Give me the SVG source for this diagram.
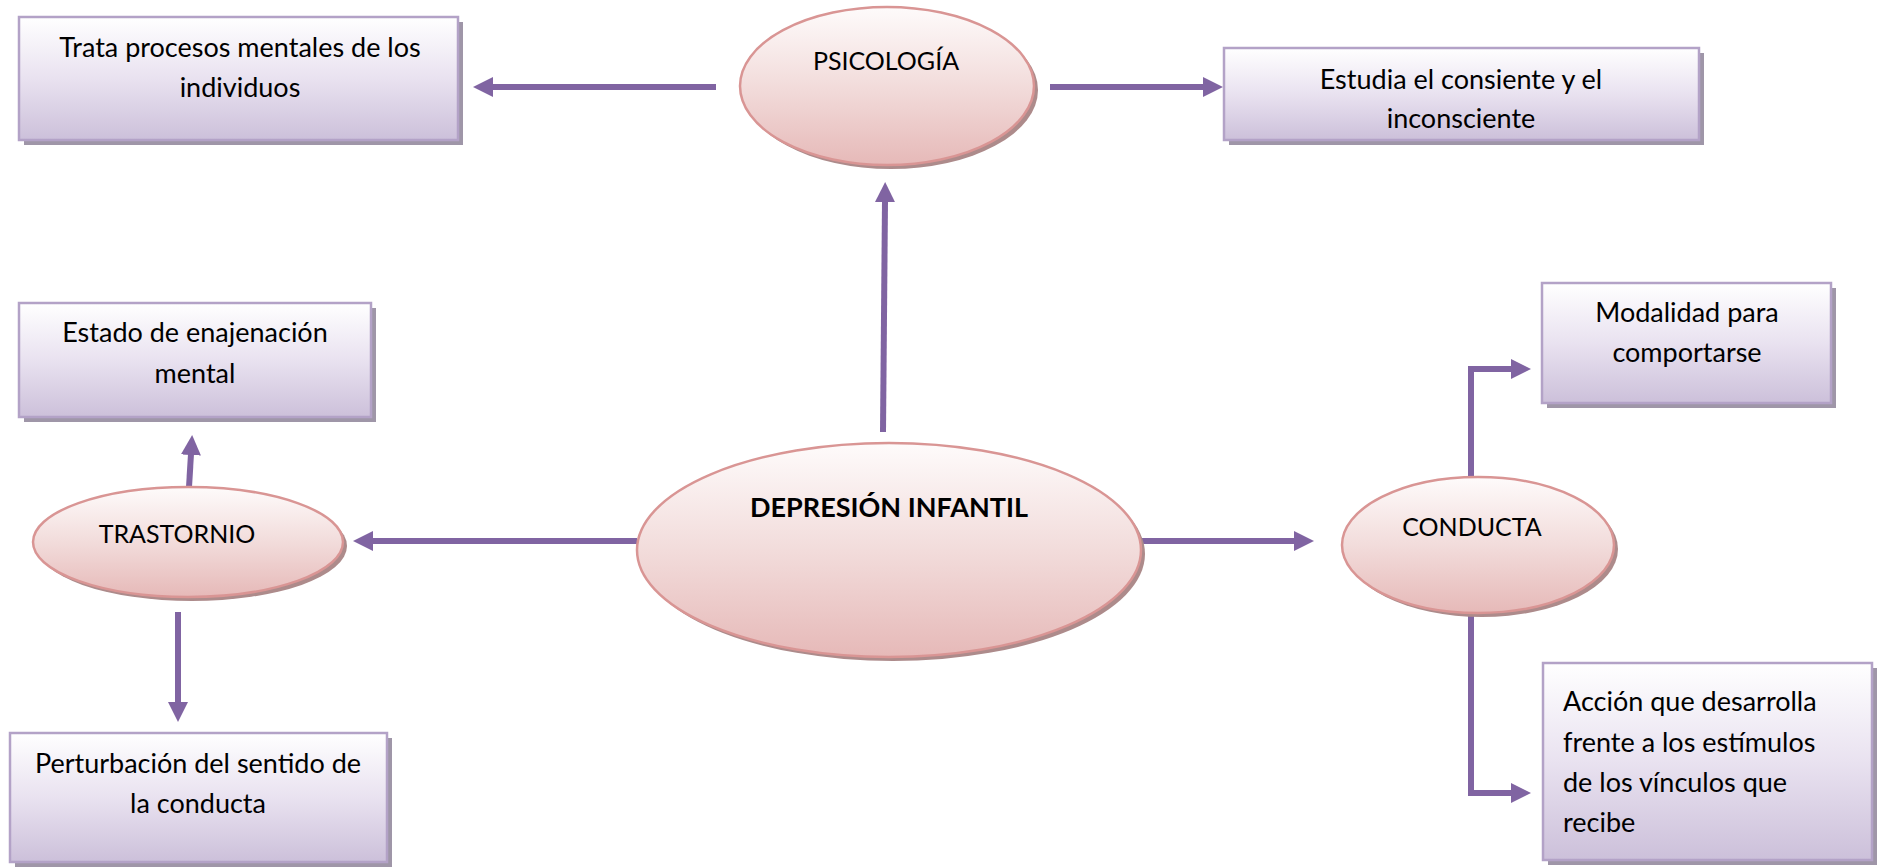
<svg xmlns="http://www.w3.org/2000/svg" width="1886" height="867" viewBox="0 0 1886 867">
<defs>
<linearGradient id="boxGrad" x1="0" y1="0" x2="0" y2="1">
<stop offset="0" stop-color="#ffffff"/>
<stop offset="0.5" stop-color="#e9e2f0"/>
<stop offset="1" stop-color="#ccc0da"/>
</linearGradient>
<linearGradient id="ellGrad" x1="0" y1="0" x2="0" y2="1">
<stop offset="0" stop-color="#fefbfb"/>
<stop offset="0.5" stop-color="#f2dcdb"/>
<stop offset="1" stop-color="#e6b9b8"/>
</linearGradient>
<marker id="arrow" markerUnits="userSpaceOnUse" markerWidth="21" markerHeight="21" refX="1" refY="10" orient="auto">
<path d="M0,0 L20,10 L0,20 z" fill="#8064a2"/>
</marker>
</defs>
<style>
.box{fill:url(#boxGrad);stroke:#b3a2c7;stroke-width:2.5}
.boxsh{fill:#9f96a8}
.ell{fill:url(#ellGrad);stroke:#d99594;stroke-width:2.5}
.ellsh{fill:#ad8b8b}
.t{font-family:Lato,"Liberation Sans",sans-serif;font-size:27px;fill:#000}
.cap{font-size:25px}
.c{text-anchor:middle}
.b{font-weight:bold}
.conn{fill:none;stroke:#8064a2;stroke-width:6;stroke-linejoin:miter;marker-end:url(#arrow)}
</style>
<rect width="1886" height="867" fill="#ffffff"/>

<g id="connectors">
<path class="conn" d="M716,87 H492"/>
<path class="conn" d="M1050,87 H1204"/>
<path class="conn" d="M883,432 L885,201"/>
<path class="conn" d="M637,541 H372"/>
<path class="conn" d="M1142,541 H1295"/>
<path class="conn" d="M189,487 L191,454"/>
<path class="conn" d="M178,612 V703"/>
<path class="conn" d="M1471,477 V369 H1512"/>
<path class="conn" d="M1471,613 V793 H1512"/>
</g>

<g id="node-psicologia">
<ellipse class="ellsh" cx="891" cy="90" rx="147" ry="79"/>
<ellipse class="ell" cx="887" cy="86" rx="147" ry="79"/>
<text class="t cap c" x="886" y="70">PSICOLOGÍA</text>
</g>

<g id="node-trata">
<rect class="boxsh" x="24" y="22" width="439" height="123"/>
<rect class="box" x="19" y="17" width="439" height="123"/>
<text class="t c" x="240" y="57">Trata procesos mentales de los</text>
<text class="t c" x="240" y="97">individuos</text>
</g>

<g id="node-estudia">
<rect class="boxsh" x="1229" y="53" width="475" height="92"/>
<rect class="box" x="1224" y="48" width="475" height="92"/>
<text class="t c" x="1461" y="89">Estudia el consiente y el</text>
<text class="t c" x="1461" y="128">inconsciente</text>
</g>

<g id="node-depresion">
<ellipse class="ellsh" cx="893" cy="554" rx="252" ry="107"/>
<ellipse class="ell" cx="889" cy="550" rx="252" ry="107"/>
<text class="t c b" x="889" y="517">DEPRESIÓN INFANTIL</text>
</g>

<g id="node-trastornio">
<ellipse class="ellsh" cx="192" cy="546" rx="155" ry="55"/>
<ellipse class="ell" cx="188" cy="542" rx="155" ry="55"/>
<text class="t cap c" x="177" y="543">TRASTORNIO</text>
</g>

<g id="node-estado">
<rect class="boxsh" x="24" y="308" width="352" height="114"/>
<rect class="box" x="19" y="303" width="352" height="114"/>
<text class="t c" x="195" y="342">Estado de enajenación</text>
<text class="t c" x="195" y="383">mental</text>
</g>

<g id="node-perturbacion">
<rect class="boxsh" x="15" y="738" width="377" height="129"/>
<rect class="box" x="10" y="733" width="377" height="129"/>
<text class="t c" x="198" y="773">Perturbación del sentido de</text>
<text class="t c" x="198" y="813">la conducta</text>
</g>

<g id="node-conducta">
<ellipse class="ellsh" cx="1482" cy="549" rx="136" ry="68"/>
<ellipse class="ell" cx="1478" cy="545" rx="136" ry="68"/>
<text class="t cap c" x="1472" y="536">CONDUCTA</text>
</g>

<g id="node-modalidad">
<rect class="boxsh" x="1547" y="288" width="289" height="120"/>
<rect class="box" x="1542" y="283" width="289" height="120"/>
<text class="t c" x="1687" y="322">Modalidad para</text>
<text class="t c" x="1687" y="362">comportarse</text>
</g>

<g id="node-accion">
<rect class="boxsh" x="1548" y="668" width="329" height="197"/>
<rect class="box" x="1543" y="663" width="329" height="197"/>
<text class="t" x="1563" y="711">Acción que desarrolla</text>
<text class="t" x="1563" y="752">frente a los estímulos</text>
<text class="t" x="1563" y="792">de los vínculos que</text>
<text class="t" x="1563" y="832">recibe</text>
</g>
</svg>
